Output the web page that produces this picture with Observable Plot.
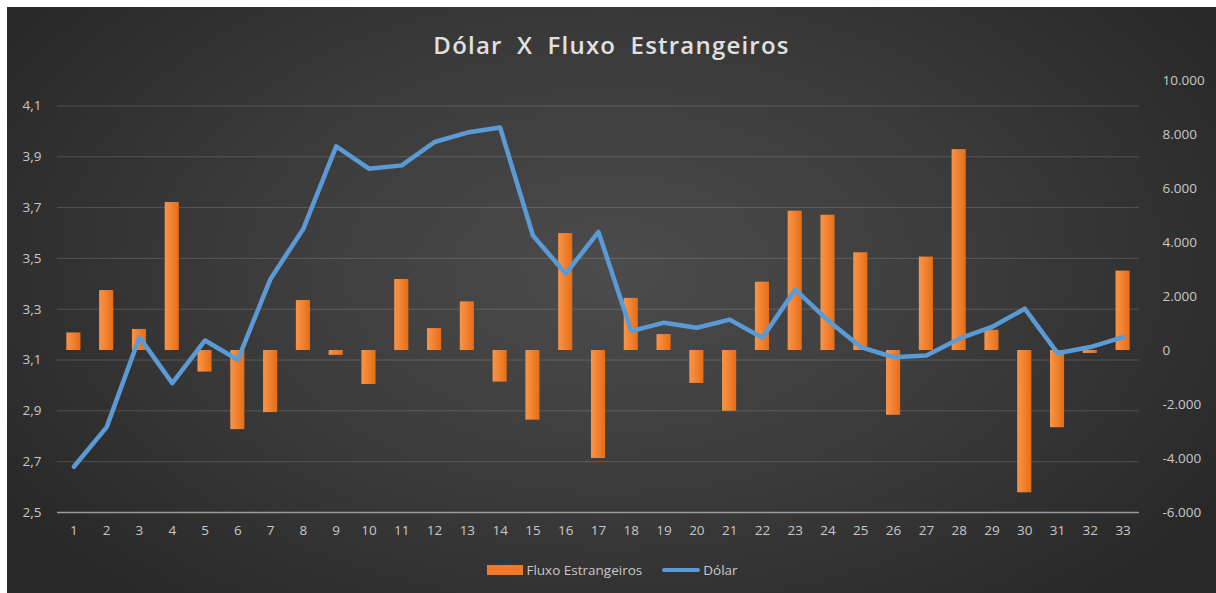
<!DOCTYPE html>
<html>
<head>
<meta charset="utf-8">
<script src="https://cdn.jsdelivr.net/npm/d3@7"></script>
<script src="https://cdn.jsdelivr.net/npm/@observablehq/plot@0.6"></script>
<style>
  html, body { margin: 0; padding: 0; background: #ffffff; }
  #wrap { position: relative; width: 1216px; height: 593px; overflow: hidden; }
  #panel {
    position: absolute; left: 7px; top: 7px; width: 1209px; height: 586px;
    background: radial-gradient(ellipse 60% 75% at 50% 45%, #4c4c4c 0%, #3d3d3d 45%, #282828 100%);
    font-family: "Open Sans", sans-serif;
  }
  #title {
    height: 60px; box-sizing: border-box;
    text-align: center; color: #e0e0e0; font-size: 24px; font-weight: 600;
    line-height: 76px; letter-spacing: 1.2px; word-spacing: 7px;
  }
  #chart { height: 480px; }
  #legend {
    height: 46px; display: flex; justify-content: center; align-items: center;
    color: #c8c8c8; font-size: 13.5px; padding-left: 2px;
  }
  .sw-bar { display: inline-block; width: 36px; height: 10px; background: #f07a2a; margin-right: 3px; }
  .sw-line { display: inline-block; width: 38px; height: 4px; background: #5b9bd5; border-radius: 2px; margin-right: 3px; margin-left: 20px; }
</style>
</head>
<body>
<div id="wrap">
  <div id="panel">
    <div id="title">Dólar X Fluxo Estrangeiros</div>
    <div id="chart"></div>
    <div id="legend"><span class="sw-bar"></span><span>Fluxo Estrangeiros</span><span class="sw-line"></span><span>Dólar</span></div>
  </div>
</div>
<script>
// ---- data ----
const days = Array.from({length: 33}, (_, i) => i + 1);
const fluxo = [650, 2220, 780, 5480, -800, -2930, -2300, 1850, -180, -1260, 2630, 810, 1800, -1170, -2580, 4330, -4000, 1930, 590, -1220, -2250, 2530, 5160, 5010, 3620, -2400, 3460, 7440, 750, -5270, -2860, -110, 2940];
const dolar = [2.68, 2.836, 3.19, 3.009, 3.177, 3.101, 3.42, 3.617, 3.941, 3.853, 3.866, 3.958, 3.995, 4.015, 3.59, 3.44, 3.604, 3.214, 3.247, 3.227, 3.259, 3.188, 3.377, 3.256, 3.151, 3.111, 3.118, 3.184, 3.23, 3.302, 3.127, 3.151, 3.19];
const leftTicks = [2.5, 2.7, 2.9, 3.1, 3.3, 3.5, 3.7, 3.9, 4.1];
const rightTicks = [-6000, -4000, -2000, 0, 2000, 4000, 6000, 8000, 10000];
const leftDomain = [2.5, 4.2];
const rightDomain = [-6000, 10000];

// ---- helpers ----
const br = d3.formatLocale({decimal: ",", thousands: ".", grouping: [3], currency: ["", ""], minus: "-"});
const fmtL = br.format(".1f");
const fmtR = br.format(",.0f");
const toLeft = v => leftDomain[0] + (v - rightDomain[0]) / (rightDomain[1] - rightDomain[0]) * (leftDomain[1] - leftDomain[0]);

const rows = days.map((d, i) => ({day: d, fluxo: fluxo[i], dolar: dolar[i]}));

const chart = Plot.plot({
  width: 1209,
  height: 480,
  marginLeft: 50,
  marginRight: 77,
  marginTop: 13,
  marginBottom: 35,
  style: {background: "transparent", fontFamily: "Open Sans, sans-serif", fontSize: "13.5px", color: "#c8c8c8", overflow: "visible"},
  x: {type: "band", domain: days, paddingInner: 0.57, paddingOuter: 0.285, round: false, axis: null},
  y: {domain: leftDomain, axis: null},
  marks: [
    Plot.ruleY(leftTicks.filter(t => t > 2.5), {stroke: "#ffffff", strokeOpacity: 0.16, strokeWidth: 1}),
    Plot.barY(rows, {x: "day", y1: () => toLeft(0), y2: d => toLeft(d.fluxo), fill: "url(#barGrad)", style: "filter: drop-shadow(1px 1px 1.5px rgba(0,0,0,0.6))"}),
    Plot.ruleY([2.5], {stroke: "#9a9a9a", strokeWidth: 1.5}),
    Plot.line(rows, {x: "day", y: "dolar", stroke: "#5b9bd5", strokeWidth: 4.5, strokeLinejoin: "round", strokeLinecap: "round", style: "filter: drop-shadow(1px 1px 1.5px rgba(0,0,0,0.5))"}),
    Plot.text(leftTicks, {y: d => d, frameAnchor: "left", textAnchor: "end", dx: -16, text: d => fmtL(d), fill: "#c8c8c8"}),
    Plot.text(rightTicks, {y: d => toLeft(d), frameAnchor: "right", textAnchor: "start", dx: 23, text: d => fmtR(d), fill: "#c8c8c8"}),
    Plot.text(days, {x: d => d, frameAnchor: "bottom", dy: 22, text: d => String(d), fill: "#c8c8c8"})
  ]
});

const defs = document.createElementNS("http://www.w3.org/2000/svg", "defs");
defs.innerHTML = '<linearGradient id="barGrad" x1="0" y1="0" x2="1" y2="0">' +
  '<stop offset="0%" stop-color="#f7944a"/><stop offset="50%" stop-color="#f2812f"/><stop offset="100%" stop-color="#e56d17"/></linearGradient>';
chart.insertBefore(defs, chart.firstChild);
document.getElementById("chart").appendChild(chart);
</script>
</body>
</html>
